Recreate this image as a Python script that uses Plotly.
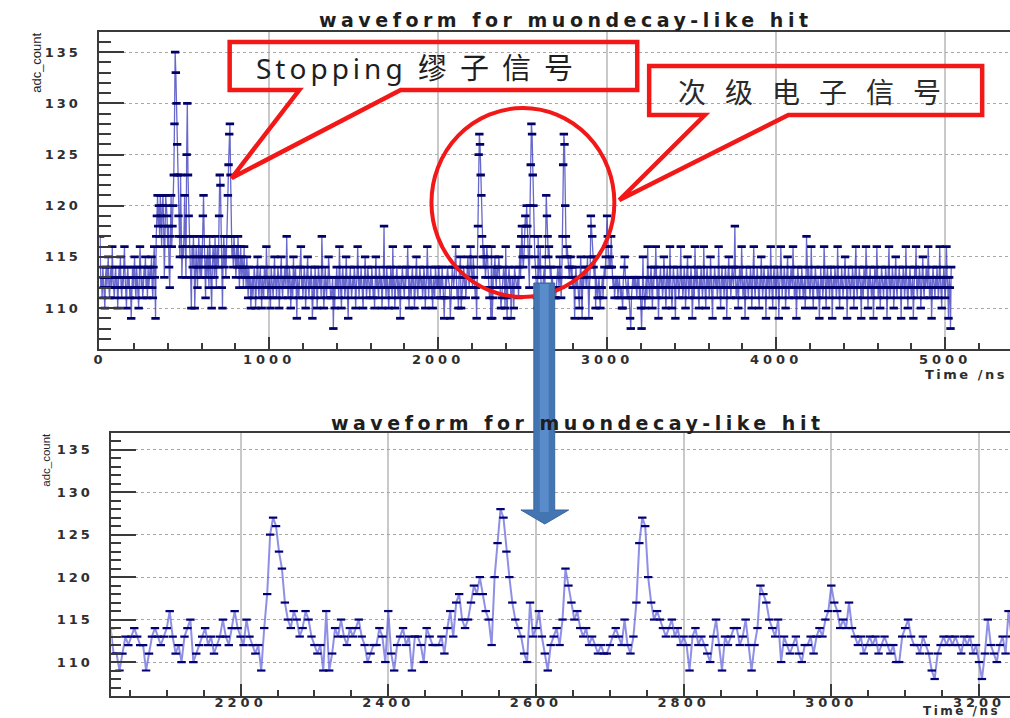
import plotly.graph_objects as go

W, H = 1010, 718
SAMPLE_NS = 4  # digitizer sampling period

# ADC samples, 4 ns apart, starting at t = 0 ns
adc_0_2020ns = [
    117, 112, 113, 111, 114, 113, 112, 110, 113, 114, 112, 113, 115, 112, 111, 113, 114, 112, 116, 113, 112, 111, 113, 114, 112,
    113, 110, 112, 114, 113, 115, 112, 111, 113, 112, 114, 116, 113, 112, 110, 113, 114, 112, 113, 111, 112, 109, 113, 114, 112,
    113, 115, 112, 111, 114, 113, 112, 110, 113, 116, 114, 112, 113, 111, 112, 114, 113, 115, 112, 113, 111, 114, 112, 113, 114,
    113, 115, 112, 111, 114, 116, 113, 109, 117, 119, 121, 118, 120, 117, 121, 119, 116, 120, 121, 118, 113, 117, 121, 120, 119,
    116, 118, 114, 112, 117, 121, 116, 118, 120, 123, 128, 135, 133, 130, 126, 123, 119, 117, 115, 123, 117, 113, 116, 115, 117,
    121, 116, 113, 125, 130, 123, 119, 117, 115, 113, 110, 116, 114, 117, 115, 110, 113, 116, 114, 112, 115, 117, 114, 113, 116,
    113, 115, 119, 121, 117, 114, 111, 115, 113, 116, 114, 112, 117, 115, 113, 110, 114, 116, 115, 113, 117, 114, 112, 116, 115,
    114, 119, 123, 122, 116, 112, 110, 115, 117, 114, 116, 113, 115, 117, 121, 124, 127, 128, 123, 117, 115, 116, 114, 117, 116,
    115, 113, 116, 114, 117, 115, 112, 114, 116, 113, 115, 114, 112, 116, 113, 114, 112, 115, 113, 111, 114, 112, 113, 110, 112,
    113, 111, 112, 114, 113, 110, 112, 113, 115, 112, 111, 113, 114, 112, 110, 113, 112, 111, 114, 113, 112, 116, 113, 111, 112,
    113, 112, 110, 114, 113, 112, 111, 113, 115, 112, 113, 111, 112, 114, 113, 110, 112, 113, 115, 112, 111, 113, 112, 114, 113,
    112, 117, 113, 111, 112, 114, 113, 110, 112, 113, 111, 115, 112, 113, 114, 112, 109, 113, 112, 111, 113, 114, 116, 112, 113,
    111, 112, 114, 113, 110, 112, 113, 115, 112, 111, 113, 112, 114, 113, 109, 112, 113, 111, 114, 112, 113, 110, 112, 114, 113,
    112, 113, 111, 117, 113, 112, 110, 113, 114, 112, 111, 113, 112, 115, 113, 112, 111, 111, 112, 113, 108, 112, 110, 113, 112,
    114, 112, 113, 111, 116, 113, 112, 110, 113, 114, 112, 113, 111, 112, 115, 113, 112, 109, 113, 112, 114, 113, 111, 112, 113,
    112, 114, 113, 110, 112, 113, 116, 112, 111, 113, 112, 114, 113, 112, 110, 113, 112, 115, 113, 111, 112, 114, 113, 112, 111,
    113, 112, 114, 113, 111, 112, 110, 113, 115, 112, 113, 112, 111, 114, 113, 112, 113, 110, 112, 113, 118, 112, 113, 111, 114,
    113, 112, 110, 113, 112, 114, 113, 111, 116, 112, 113, 110, 112, 113, 114, 112, 111, 113, 112, 109, 113, 112, 114, 113, 112,
    111, 113, 112, 114, 113, 116, 112, 110, 113, 112, 111, 113, 114, 112, 113, 110, 112, 113, 115, 112, 111, 113, 112, 114, 113,
    112, 113, 111, 112, 114, 113, 110, 112, 113, 116, 112, 111, 113, 112, 114, 113, 112, 110, 113, 112, 111, 114, 113, 112, 113,
    112, 114, 113, 111, 113, 112,
]

# 2024-3240 ns: the three secondary-electron pulses
adc_2024_3240ns = [
    114, 111, 111, 109, 111, 113, 112, 113, 114, 113, 112, 112, 109, 111, 113, 114, 113, 112, 113, 114, 116, 113, 111, 112, 110,
    113, 114, 115, 110, 111, 112, 113, 114, 112, 113, 111, 112, 113, 115, 113, 112, 114, 116, 114, 113, 112, 115, 113, 112, 111,
    112, 109, 114, 118, 125, 127, 126, 123, 121, 117, 115, 114, 116, 115, 113, 114, 116, 115, 113, 112, 111, 112, 109, 116, 109,
    111, 114, 113, 115, 113, 112, 114, 113, 114, 115, 113, 112, 110, 111, 112, 112, 114, 113, 110, 116, 111, 109, 112, 113, 114,
    112, 113, 109, 113, 113, 112, 110, 114, 113, 112, 112, 112, 113, 111, 114, 116, 113, 117, 118, 115, 114, 115, 117, 119, 118,
    120, 118, 116, 115, 112, 120, 124, 128, 127, 123, 120, 117, 115, 114, 113, 111, 110, 117, 113, 114, 116, 113, 111, 109, 112,
    113, 114, 112, 115, 121, 119, 117, 115, 116, 114, 113, 114, 112, 113, 112, 111, 112, 111, 111, 112, 113, 114, 113, 112, 115,
    112, 111, 113, 117, 124, 127, 126, 120, 117, 115, 116, 115, 114, 113, 114, 115, 113, 114, 112, 113, 112, 109, 113, 114, 112,
    113, 112, 111, 110, 113, 115, 112, 109, 113, 112, 113, 114, 114, 112, 113, 115, 112, 109, 112, 114, 119, 118, 117, 115, 114,
    113, 115, 110, 113, 112, 111, 112, 113, 111, 110, 112, 112, 113, 111, 113, 114, 113, 115, 116, 119, 117, 116, 114, 115, 114,
    117, 114, 113, 112, 113, 111, 112, 113, 112, 113, 111, 112, 113, 112, 111, 112, 110, 110, 113, 114, 115, 113, 112, 112, 111,
    113, 112, 111, 109, 108, 111, 112, 113, 112, 113, 112, 113, 112, 111, 113, 112, 113, 111, 112, 110, 108, 111, 115, 112, 111,
    110, 112, 113, 111, 116,
]

# 3244-5036 ns: pedestal until the end of the record
adc_3244_5036ns = [
    113, 112, 111, 113, 114, 112, 110, 113, 112, 114, 113, 116, 112, 111, 113, 109, 112, 113, 114, 112, 113, 111, 112, 115, 113,
    112, 110, 113, 114, 112, 113, 111, 116, 113, 112, 110, 112, 114, 113, 112, 109, 113, 112, 114, 113, 111, 112, 113, 116, 112,
    113, 111, 112, 114, 113, 110, 112, 113, 115, 112, 111, 113, 112, 114, 113, 109, 112, 113, 111, 116, 113, 112, 114, 113, 112,
    110, 113, 112, 114, 113, 111, 112, 116, 113, 112, 110, 113, 114, 112, 113, 111, 112, 115, 113, 112, 109, 113, 112, 114, 113,
    112, 113, 111, 112, 116, 113, 112, 110, 113, 114, 112, 113, 111, 112, 114, 113, 109, 112, 113, 115, 112, 113, 111, 112, 114,
    113, 112, 114, 118, 113, 111, 112, 113, 110, 112, 114, 113, 112, 116, 113, 111, 112, 113, 109, 112, 114, 113, 112, 111, 113,
    112, 114, 113, 110, 112, 113, 116, 112, 111, 113, 112, 114, 113, 112, 110, 113, 112, 115, 113, 111, 112, 114, 113, 112, 109,
    113, 112, 114, 113, 111, 112, 116, 113, 112, 110, 113, 114, 112, 113, 111, 112, 114, 113, 109, 112, 113, 116, 112, 111, 113,
    112, 114, 113, 110, 112, 113, 115, 112, 111, 113, 112, 114, 113, 112, 116, 113, 111, 112, 113, 109, 112, 114, 113, 112, 111,
    113, 112, 114, 113, 111, 112, 113, 110, 112, 117, 113, 112, 114, 113, 111, 112, 116, 113, 112, 110, 113, 112, 114, 113, 112,
    111, 113, 112, 109, 113, 114, 112, 113, 111, 112, 116, 113, 112, 110, 113, 114, 112, 113, 111, 112, 114, 113, 109, 112, 113,
    112, 114, 113, 111, 112, 116, 113, 112, 110, 113, 112, 114, 113, 111, 112, 113, 115, 112, 113, 109, 112, 114, 113, 112, 111,
    113, 112, 114, 113, 110, 112, 113, 116, 112, 111, 113, 112, 114, 113, 112, 109, 113, 112, 111, 114, 113, 112, 116, 113, 112,
    110, 113, 112, 114, 113, 111, 112, 113, 109, 112, 114, 113, 112, 116, 113, 111, 112, 113, 110, 112, 114, 113, 112, 111, 113,
    112, 114, 113, 109, 112, 113, 116, 112, 111, 113, 112, 114, 113, 110, 112, 113, 115, 112, 111, 113, 112, 114, 113, 112, 109,
    113, 112, 114, 113, 111, 112, 116, 113, 112, 110, 113, 112, 114, 113, 111, 112, 113, 109, 112, 114, 113, 116, 112, 111, 113,
    112, 114, 113, 110, 112, 113, 115, 112, 111, 113, 112, 114, 113, 112, 116, 113, 111, 112, 113, 109, 112, 114, 113, 112, 111,
    113, 112, 114, 113, 111, 112, 116, 113, 112, 110, 113, 112, 114, 113, 111, 112, 116, 113, 112, 109, 113, 112, 108, 114,
]

adc_count = adc_0_2020ns + adc_2024_3240ns + adc_3244_5036ns
time_ns = [i * SAMPLE_NS for i in range(len(adc_count))]

top_xticks = [0, 1000, 2000, 3000, 4000, 5000]
bottom_xticks = [2200, 2400, 2600, 2800, 3000, 3200]
yticks = [110, 115, 120, 125, 130, 135]

TITLE = "waveform for muondecay-like hit"
XTITLE = "Time /ns"
YTITLE = "adc_count"
LABEL_MU = ("Stopping", "缪子信号")
LABEL_E = "次级电子信号"


def px(x):
    return x / W


def py(y):
    return 1 - y / H


def spaced(s, gap):
    return f"<span style='letter-spacing:{gap}px'>{s}</span>"


AXIS_COL = "#3a3a3a"
TICK_FONT = dict(family="DejaVu Sans", size=13, color="#2e2e2e", weight="bold")

fig = go.Figure()

# full record (upper pad)
fig.add_trace(go.Scatter(
    x=time_ns, y=adc_count, mode="lines+markers", xaxis="x", yaxis="y",
    line=dict(color="rgba(45,45,185,0.72)", width=1.3),
    marker=dict(symbol="line-ew", size=6, line=dict(width=2.8, color="#00006a")),
    hoverinfo="skip", showlegend=False,
))
# zoomed window (lower pad)
fig.add_trace(go.Scatter(
    x=time_ns, y=adc_count, mode="lines+markers", xaxis="x2", yaxis="y2",
    line=dict(color="rgba(95,95,220,0.7)", width=2),
    marker=dict(symbol="line-ew", size=6, line=dict(width=2.2, color="#000074")),
    hoverinfo="skip", showlegend=False,
))


def xaxis_cfg(domain, rng, ticks, minor_dtick, standoff):
    return dict(
        domain=domain, range=rng, tickmode="array", tickvals=ticks,
        ticktext=[spaced(str(v), 4) for v in ticks], tickfont=TICK_FONT,
        ticks="inside", ticklen=12, tickwidth=1.5, tickcolor=AXIS_COL,
        showline=True, linecolor=AXIS_COL, linewidth=2, mirror=True,
        showgrid=True, gridcolor="#c9c9c9", gridwidth=2,
        minor=dict(dtick=minor_dtick, tick0=0, ticks="inside", ticklen=6,
                   tickwidth=1.5, tickcolor=AXIS_COL, showgrid=False),
        zeroline=False, ticklabelstandoff=standoff, fixedrange=True,
    )


def yaxis_cfg(domain, anchor, major_len, minor_len):
    return dict(
        domain=domain, range=[106, 137], anchor=anchor, tickmode="array",
        tickvals=yticks, ticktext=[spaced(str(v), 3) for v in yticks],
        tickfont=TICK_FONT, ticks="inside", ticklen=major_len, tickwidth=1.5,
        tickcolor=AXIS_COL, showline=True, linecolor=AXIS_COL, linewidth=2,
        mirror=False, showgrid=True, gridcolor="#a8a8a8", gridwidth=1.2,
        griddash="dot",
        minor=dict(dtick=1, tick0=0, ticks="inside", ticklen=minor_len,
                   tickwidth=1.5, tickcolor=AXIS_COL, showgrid=False),
        zeroline=False, ticklabelstandoff=14, fixedrange=True,
    )


fig.update_layout(
    width=W, height=H, margin=dict(l=0, r=0, t=0, b=0),
    paper_bgcolor="white", plot_bgcolor="white",
    xaxis=dict(xaxis_cfg([px(94), 1], [-4, 5384], top_xticks, 200, -3), anchor="y"),
    yaxis=yaxis_cfg([py(349), py(31.7)], "x", 25, 12),
    xaxis2=dict(xaxis_cfg([px(106), 1], [2025, 3242], bottom_xticks, 50, -7), anchor="y2"),
    yaxis2=yaxis_cfg([py(696), py(432.7)], "x2", 25, 10),
)

ann = []
title_font = dict(family="DejaVu Sans", size=19, color="#1e1e1e", weight="bold")
for x0, y0 in [(313, 20), (325, 423)]:
    ann.append(dict(x=px(x0), y=py(y0), xref="paper", yref="paper", xanchor="left",
                    yanchor="middle", showarrow=False, text=spaced(TITLE, 4.5),
                    font=title_font))
for x0, y0, size in [(922, 374, 13), (920, 711, 12)]:
    ann.append(dict(x=px(x0), y=py(y0), xref="paper", yref="paper", xanchor="left",
                    yanchor="middle", showarrow=False, text=spaced(XTITLE, 2.5),
                    font=dict(family="DejaVu Sans", size=size, color="#2e2e2e", weight="bold")))
for x0, y0, size in [(30, 31, 13), (40, 431, 11.5)]:
    ann.append(dict(x=px(x0), y=py(y0), xref="paper", yref="paper", xanchor="center",
                    yanchor="top", showarrow=False, text=YTITLE, textangle=-90,
                    font=dict(family="Liberation Sans", size=size, color="#262626")))

# callout labels
ann.append(dict(
    x=px(249), y=py(66), xref="paper", yref="paper", xanchor="left", yanchor="middle",
    showarrow=False,
    text=(f"<span style='letter-spacing:4px'>{LABEL_MU[0]}</span>"
          f"<span style='letter-spacing:4px'> </span>"
          f"<span style='font-family:Noto Sans CJK SC;font-size:29px;letter-spacing:13px'>{LABEL_MU[1]}</span>"),
    font=dict(family="Noto Sans, Noto Sans CJK SC", size=28, color="#1e1e1e"),
))
ann.append(dict(
    x=px(674), y=py(91), xref="paper", yref="paper", xanchor="left", yanchor="middle",
    showarrow=False, text=spaced(LABEL_E, 19),
    font=dict(family="Noto Sans CJK SC", size=28, color="#2a2a2a"),
))
fig.update_layout(annotations=ann)


def path(points):
    s = "M " + " L ".join(f"{px(x):.5f},{py(y):.5f}" for x, y in points)
    return s + " Z"


RED = "#f21818"
shapes = [
    dict(type="path", xref="paper", yref="paper", layer="above",
         path=path([(225, 42), (635, 42), (635, 90), (397, 90), (227, 178), (295, 90), (225, 90)]),
         line=dict(color=RED, width=4.5)),
    dict(type="path", xref="paper", yref="paper", layer="above",
         path=path([(647, 66), (982, 66), (982, 115), (787, 115), (617, 200), (703, 115), (647, 115)]),
         line=dict(color=RED, width=4.5)),
    dict(type="circle", xref="paper", yref="paper", layer="above",
         x0=px(428), x1=px(612), y0=py(297), y1=py(108),
         line=dict(color=RED, width=4)),
    # downward arrow from the circled pulses to the zoomed pad
    dict(type="path", xref="paper", yref="paper", layer="above",
         path=path([(531, 283), (552, 283), (552, 510), (566, 510), (542, 524), (518, 510), (531, 510)]),
         fillcolor="#4375b3", line=dict(color="#3a679f", width=1)),
    dict(type="path", xref="paper", yref="paper", layer="above",
         path=path([(537, 284), (546, 284), (546, 512), (537, 512)]),
         fillcolor="#5a8ccb", line=dict(width=0)),
]
fig.update_layout(shapes=shapes)

fig.write_html("out.html", config={"displayModeBar": False})
